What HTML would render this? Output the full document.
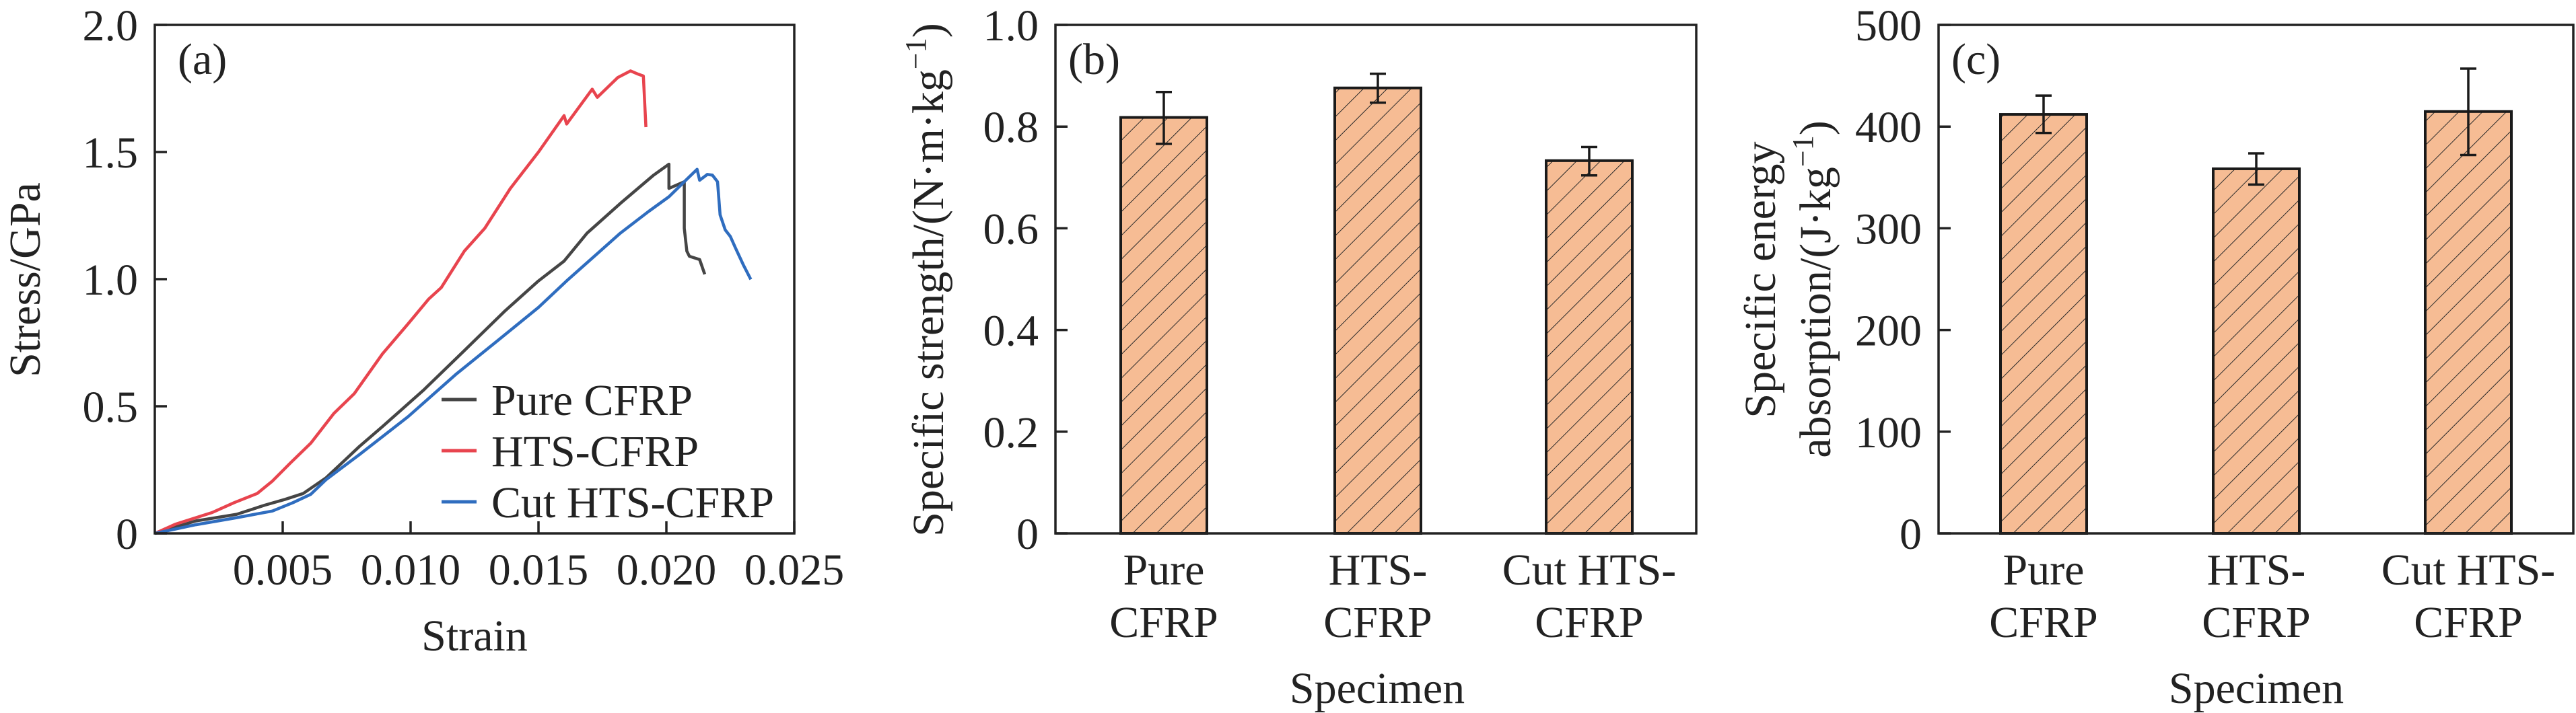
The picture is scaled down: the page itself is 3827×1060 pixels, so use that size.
<!DOCTYPE html>
<html><head><meta charset="utf-8"><style>
html,body{margin:0;padding:0;background:#fff;}
svg{display:block;font-family:"Liberation Serif","DejaVu Serif",serif;}
</style></head><body>
<svg id="fig" width="3827" height="1060" viewBox="0 0 3827 1060" xmlns="http://www.w3.org/2000/svg">
<defs>
<pattern id="hatch" patternUnits="userSpaceOnUse" width="25" height="25" patternTransform="rotate(45)">
<rect width="25" height="25" fill="#f6bc94"/>
<line x1="0" y1="0" x2="0" y2="25" stroke="#2a2a2a" stroke-width="2"/>
</pattern>
</defs>
<g id="pa"></g>
<g id="pb"></g>
<g id="pc"></g>
</svg>
<script>
// Panel (a) data: [strain, stress GPa]
const pureCFRP = [[0,0],[0.0016,0.049],[0.0032,0.075],[0.0043,0.111],[0.0051,0.134],[0.0058,0.157],[0.0067,0.219],[0.008,0.342],[0.0089,0.42],[0.0105,0.563],[0.0121,0.719],[0.0137,0.876],[0.015,0.993],[0.016,1.071],[0.0169,1.181],[0.0182,1.298],[0.0195,1.409],[0.0201,1.452],[0.0201,1.357],[0.0207,1.383],[0.0207,1.2],[0.0208,1.11],[0.0209,1.09],[0.0213,1.077],[0.0215,1.019]];
const htsCFRP = [[0,0],[0.0008,0.036],[0.00224,0.082],[0.0031,0.121],[0.004,0.157],[0.0046,0.206],[0.0053,0.277],[0.0061,0.355],[0.007,0.472],[0.0078,0.55],[0.0089,0.706],[0.0099,0.824],[0.0107,0.921],[0.0112,0.967],[0.0121,1.11],[0.0129,1.2],[0.0139,1.357],[0.015,1.5],[0.016,1.643],[0.0161,1.61],[0.0171,1.747],[0.0173,1.715],[0.0181,1.793],[0.0186,1.819],[0.0189,1.806],[0.0191,1.799],[0.0192,1.598]];
const cutHtsCFRP = [[0,0],[0.0016,0.034],[0.0032,0.062],[0.0046,0.088],[0.0054,0.121],[0.0061,0.154],[0.0067,0.212],[0.008,0.31],[0.0099,0.459],[0.0118,0.628],[0.0134,0.758],[0.015,0.889],[0.0161,0.993],[0.0182,1.181],[0.0193,1.266],[0.0201,1.324],[0.0207,1.383],[0.0212,1.432],[0.0213,1.389],[0.0216,1.412],[0.0218,1.409],[0.022,1.383],[0.0221,1.253],[0.0223,1.194],[0.0225,1.168],[0.0227,1.123],[0.023,1.058],[0.0233,0.999]];
const aXTicks = [0.005,0.010,0.015,0.020,0.025];
const aXTickLabels = ["0.005","0.010","0.015","0.020","0.025"];
const aYTicks = [0,0.5,1.0,1.5,2.0];
const aYTickLabels = ["0","0.5","1.0","1.5","2.0"];
const seriesNames = ["Pure CFRP","HTS-CFRP","Cut HTS-CFRP"];
// Panel (b)
const categories = [["Pure","CFRP"],["HTS-","CFRP"],["Cut HTS-","CFRP"]];
const strengthVals = [0.818,0.876,0.733];
const strengthErrHi = [0.868,0.904,0.760];
const strengthErrLo = [0.766,0.847,0.704];
const bYTicks = [0,0.2,0.4,0.6,0.8,1.0];
const bYTickLabels = ["0","0.2","0.4","0.6","0.8","1.0"];
// Panel (c)
const seaVals = [412,358.5,414.8];
const seaErrHi = [430.5,373.7,457];
const seaErrLo = [393.8,343,372];
const cYTicks = [0,100,200,300,400,500];
const cYTickLabels = ["0","100","200","300","400","500"];

const NS="http://www.w3.org/2000/svg";
function mk(parent,tag,attrs,txt){const e=document.createElementNS(NS,tag);for(const k in attrs)e.setAttribute(k,attrs[k]);if(txt!==undefined)e.textContent=txt;parent.appendChild(e);return e;}
const FS=66, TOP=37, BOT=793;

// ---------- Panel A ----------
(function(){
const g=document.getElementById('pa');
const L=230,R=1180;
const sx=v=>L+(v/0.025)*(R-L);
const sy=v=>BOT-(v/2.0)*(BOT-TOP);
const colors=["#454545","#e8444e","#2f6dbf"];
[pureCFRP,htsCFRP,cutHtsCFRP].forEach((d,i)=>{
 const p=mk(g,'polyline',{points:d.map(q=>sx(q[0]).toFixed(1)+','+sy(q[1]).toFixed(1)).join(' '),fill:'none',stroke:colors[i],'stroke-width':4.5,'stroke-linejoin':'round'});
 
 
});
const ax=mk(g,'rect',{x:L,y:TOP,width:R-L,height:BOT-TOP,fill:'none',stroke:'#222','stroke-width':3.5});

aXTicks.forEach((t,i)=>{
 const tl=mk(g,'line',{x1:sx(t),x2:sx(t),y1:BOT,y2:BOT-18,stroke:'#222','stroke-width':3.5});
 
 const tx=mk(g,'text',{x:sx(t),y:869,'font-size':FS,'text-anchor':'middle',fill:'#222'},aXTickLabels[i]);
 
});
aYTicks.forEach((t,i)=>{
 const tl=mk(g,'line',{x1:L,x2:L+18,y1:sy(t),y2:sy(t),stroke:'#222','stroke-width':3.5});
 
 const tx=mk(g,'text',{x:205,y:sy(t)+23,'font-size':FS,'text-anchor':'end',fill:'#222'},aYTickLabels[i]);
 
});
let t=mk(g,'text',{x:705,y:967,'font-size':FS,'text-anchor':'middle',fill:'#222'},'Strain');

t=mk(g,'text',{x:0,y:0,'font-size':FS,'text-anchor':'middle',fill:'#222',transform:'translate(59,416) rotate(-90)'},'Stress/GPa');

t=mk(g,'text',{x:264,y:110,'font-size':FS,fill:'#222'},'(a)');

const ly=[594,670,746];
seriesNames.forEach((n,i)=>{
 const lg=mk(g,'g',{});
 
 
 mk(lg,'line',{x1:656,x2:708,y1:ly[i],y2:ly[i],stroke:colors[i],'stroke-width':5});
 mk(lg,'text',{x:730,y:ly[i]+23,'font-size':FS,fill:'#222'},n);
});
})();

// ---------- Bar panels ----------
function barPanel(id,L,R,yMax,vals,hi,lo,ticks,tickLabels,centers,tickRight,letter,ytitleFn,specX){
 const g=document.getElementById(id);
 const sy=v=>BOT-(v/yMax)*(BOT-TOP);
 const bw=128;
 vals.forEach((v,i)=>{
  const b=mk(g,'rect',{x:centers[i]-bw/2,y:sy(v),width:bw,height:BOT-sy(v),fill:'url(#hatch)',stroke:'#1a1a1a','stroke-width':4});
  
  
  const e=mk(g,'path',{d:`M${centers[i]},${sy(hi[i])}V${sy(lo[i])}M${centers[i]-12},${sy(hi[i])}H${centers[i]+12}M${centers[i]-12},${sy(lo[i])}H${centers[i]+12}`,stroke:'#1a1a1a','stroke-width':3.5,fill:'none'});
  
  
  categories[i].forEach((s,j)=>{
   const c=mk(g,'text',{x:centers[i],y:869+j*78,'font-size':FS,'text-anchor':'middle',fill:'#222'},s);
   
   
  });
 });
 const ax=mk(g,'rect',{x:L,y:TOP,width:R-L,height:BOT-TOP,fill:'none',stroke:'#222','stroke-width':3.5});
 
 ticks.forEach((t,i)=>{
  const tl=mk(g,'line',{x1:L,x2:L+18,y1:sy(t),y2:sy(t),stroke:'#222','stroke-width':3.5});
  
  const tx=mk(g,'text',{x:tickRight,y:sy(t)+23,'font-size':FS,'text-anchor':'end',fill:'#222'},tickLabels[i]);
  
 });
 let t=mk(g,'text',{x:L+19,y:110,'font-size':FS,fill:'#222'},'('+letter+')');
 
 t=mk(g,'text',{x:specX,y:1045,'font-size':FS,'text-anchor':'middle',fill:'#222'},'Specimen');
 
 ytitleFn(g);
}
barPanel('pb',1568,2520,1.0,strengthVals,strengthErrHi,strengthErrLo,bYTicks,bYTickLabels,[1729,2047,2361],1543,'b',g=>{
 const t=mk(g,'text',{x:0,y:0,'font-size':FS,'text-anchor':'middle',fill:'#222',transform:'translate(1401,416) rotate(-90)'});
 
 t.appendChild(document.createTextNode('Specific strength/(N·m·kg'));
 mk(t,'tspan',{'font-size':44,dy:-26},'−1');
 mk(t,'tspan',{dy:26},')');
},2046);
barPanel('pc',2880,3823,500,seaVals,seaErrHi,seaErrLo,cYTicks,cYTickLabels,[3036,3352,3667],2855,'c',g=>{
 let t=mk(g,'text',{x:0,y:0,'font-size':FS,'text-anchor':'middle',fill:'#222',transform:'translate(2637,416) rotate(-90)'},'Specific energy');
 
 t=mk(g,'text',{x:0,y:0,'font-size':FS,'text-anchor':'middle',fill:'#222',transform:'translate(2719,430) rotate(-90)'});
 
 t.appendChild(document.createTextNode('absorption/(J·kg'));
 mk(t,'tspan',{'font-size':44,dy:-26},'−1');
 mk(t,'tspan',{dy:26},')');
},3352);
</script>
</body></html>
